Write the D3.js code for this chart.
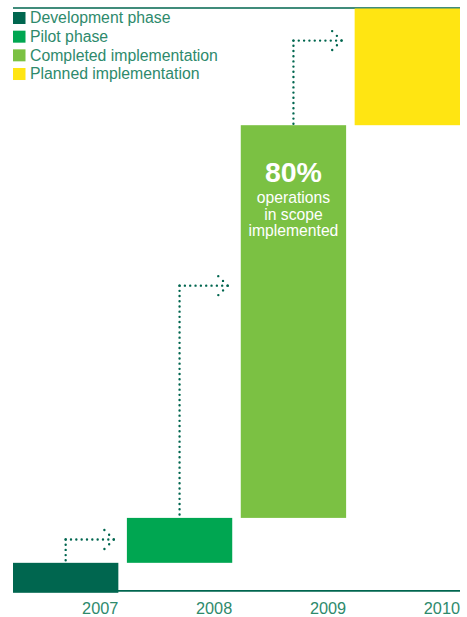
<!DOCTYPE html>
<html>
<head>
<meta charset="utf-8">
<script src="https://cdn.jsdelivr.net/npm/d3@7"></script>
<style>
  html, body { margin: 0; padding: 0; background: #fff; }
  svg { display: block; font-family: "Liberation Sans", Arial, sans-serif; }
</style>
</head>
<body>
<svg id="chart" width="467" height="617"></svg>
<script>
// ---- data ----
const years = ["2007", "2008", "2009", "2010"];
const phases = ["Development phase", "Pilot phase", "Completed implementation", "Planned implementation"];
const startValues = [0, 5, 12.7, 80];     // cumulative % where each step starts
const endValues = [5, 12.7, 80, 100];     // cumulative % where each step ends
const arrowLevels = [9, 52.5, 94.5];      // level of the dotted connector arrows
const colors = ["#00664f", "#00a651", "#7bc143", "#ffe512"];
const callout = { value: "80%", lines: ["operations", "in scope", "implemented"] };

// ---- layout ----
const svg = d3.select("#chart");
const plotLeft = 13, plotRight = 460, plotTop = 8.5, plotBottom = 592;
const dark = "#00664f", textCol = "#2e8a6c";

const x = d3.scaleBand().domain(years).range([plotLeft, plotRight]).paddingInner(0.075).paddingOuter(0);
const y = d3.scaleLinear().domain([0, 100]).range([plotBottom, plotTop]);

// top rule and baseline
svg.append("line").attr("x1", plotLeft).attr("x2", plotRight).attr("y1", 8).attr("y2", 8)
  .attr("stroke", dark).attr("stroke-width", 1.6);
svg.append("line").attr("x1", plotLeft).attr("x2", plotRight).attr("y1", 590.8).attr("y2", 590.8)
  .attr("stroke", dark).attr("stroke-width", 1.8);

// dotted connector arrows
const arrows = svg.append("g").attr("fill", "none").attr("stroke", dark)
  .attr("stroke-width", 2.4).attr("stroke-linecap", "round");
arrowLevels.forEach((lv, i) => {
  const cx = x(years[i]) + x.bandwidth() / 2;
  const cy = y(lv);
  const barTop = y(endValues[i]);
  const tip = x(years[i + 1]) - 13;
  arrows.append("path").attr("d", `M${cx},${cy}V${barTop}`).attr("stroke-dasharray", "0 5.2");
  arrows.append("path").attr("d", `M${cx},${cy}H${tip}`).attr("stroke-dasharray", "0 5.33");
  arrows.append("path").attr("d", `M${tip - 9.5},${cy - 9.5}L${tip},${cy}L${tip - 9.5},${cy + 9.5}`)
    .attr("stroke-dasharray", "0 6.7");
});

// bars
svg.append("g").selectAll("rect").data(years).join("rect")
  .attr("x", d => x(d))
  .attr("width", x.bandwidth())
  .attr("y", (d, i) => y(endValues[i]))
  .attr("height", (d, i) => y(startValues[i]) - y(endValues[i]) + (i === 0 ? 0.8 : 0))
  .attr("fill", (d, i) => colors[i]);

// callout in the completed bar
const ci = 2;
const ccx = x(years[ci]) + x.bandwidth() / 2;
const cTop = y(endValues[ci]);
svg.append("text").attr("x", ccx).attr("y", cTop + 57).attr("text-anchor", "middle")
  .attr("fill", "#fff").attr("font-weight", "bold").attr("font-size", 28.5).text(callout.value);
callout.lines.forEach((t, k) => {
  svg.append("text").attr("x", ccx).attr("y", cTop + 78 + k * 16.5).attr("text-anchor", "middle")
    .attr("fill", "#fff").attr("font-size", 15.7).text(t);
});

// year labels (right aligned to bar's right edge)
svg.append("g").selectAll("text").data(years).join("text")
  .attr("x", d => x(d) + x.bandwidth())
  .attr("y", 613.5)
  .attr("text-anchor", "end")
  .attr("fill", textCol)
  .attr("font-size", 16.3)
  .text(d => d);

// legend
const lg = svg.append("g");
phases.forEach((p, i) => {
  const yy = 12 + i * 18.67;
  lg.append("rect").attr("x", 13).attr("y", yy).attr("width", 12.5).attr("height", 12).attr("fill", colors[i]);
  lg.append("text").attr("x", 30).attr("y", yy + 11.3).attr("fill", textCol)
    .attr("font-size", 15.8).text(p);
});
</script>
</body>
</html>
